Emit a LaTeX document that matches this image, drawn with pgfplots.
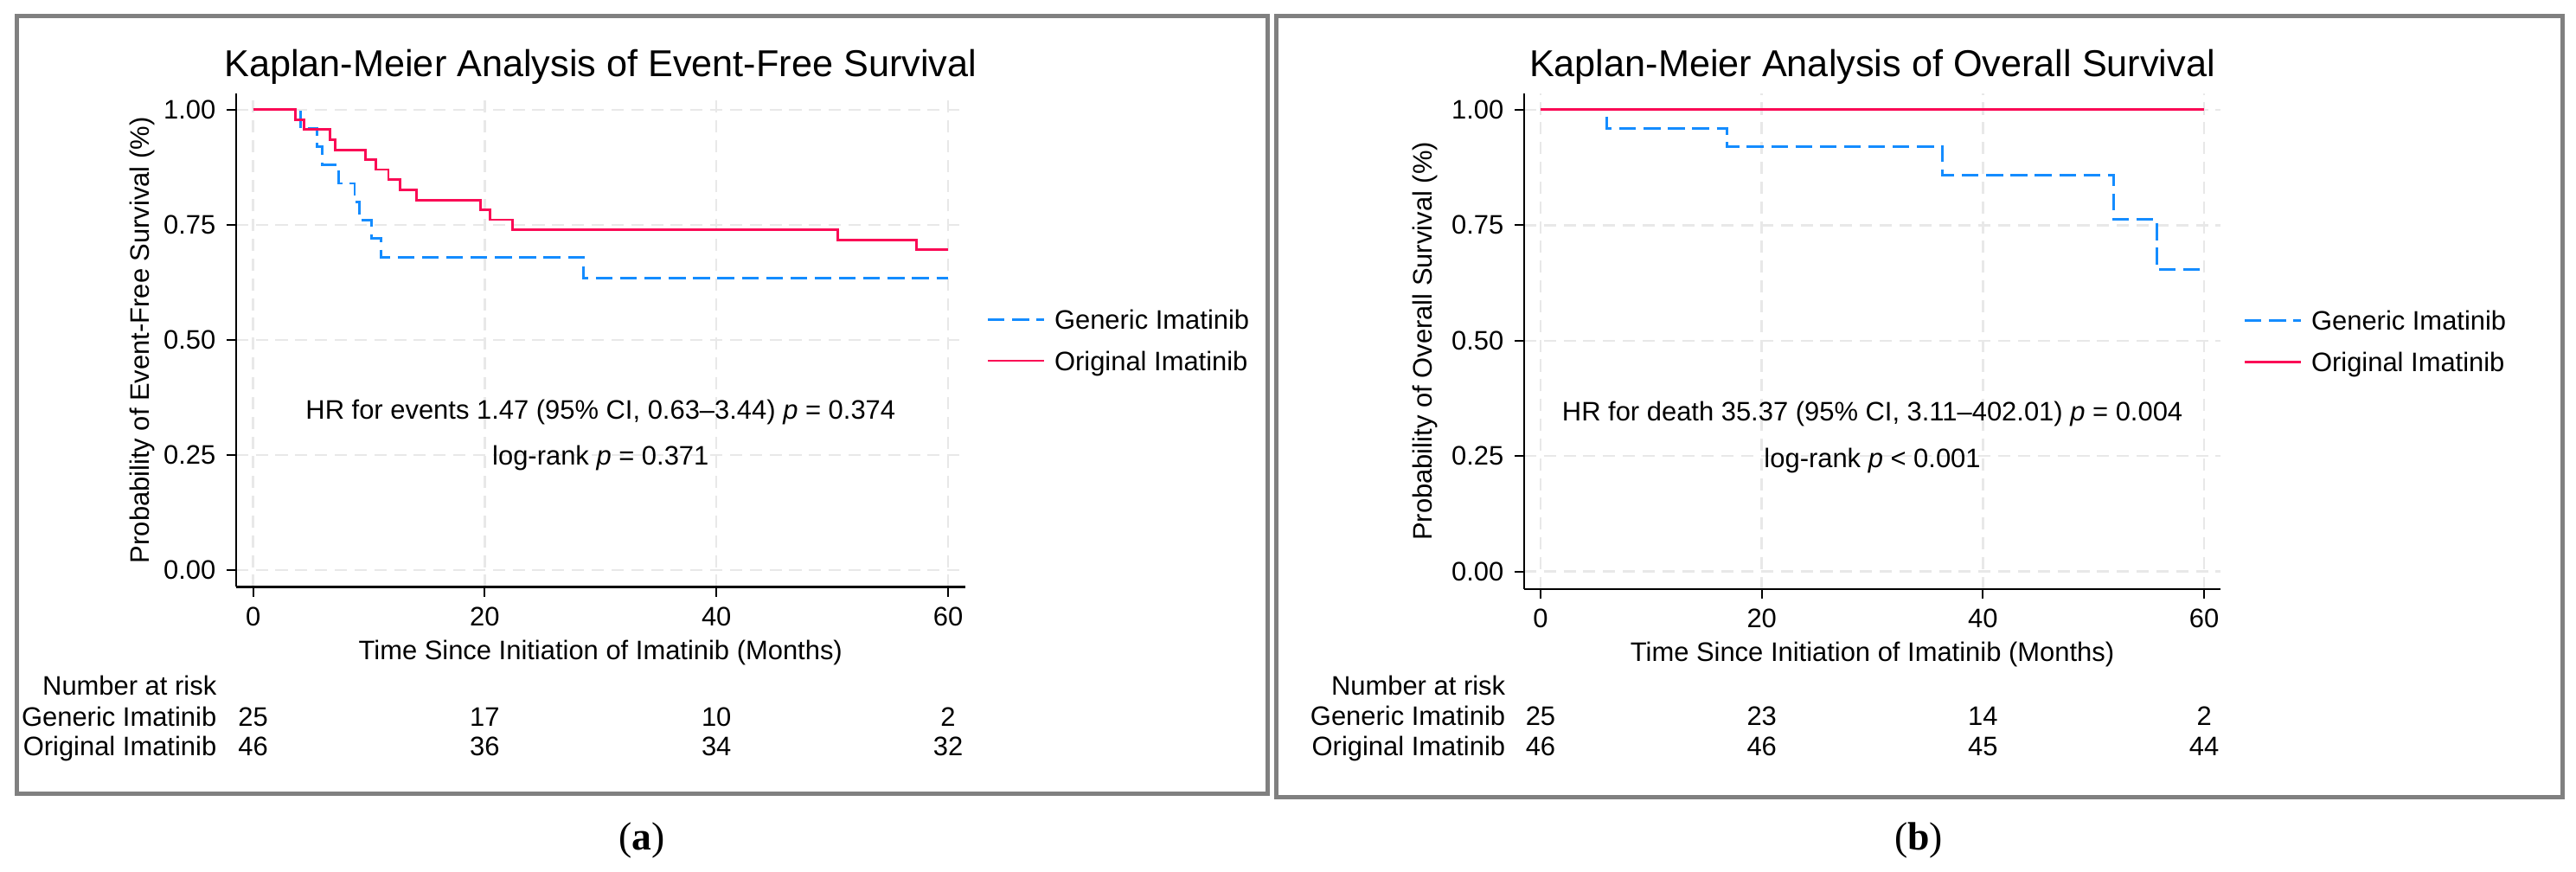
\documentclass[border=0pt]{standalone}
\usepackage{fontspec}
\setmainfont{Liberation Sans}
\newfontfamily\capfont{Liberation Serif}
\usepackage{pgfplots}
\pgfplotsset{compat=1.18}

\definecolor{kmblue}{RGB}{20,140,255}
\definecolor{kmred}{RGB}{250,10,85}
\definecolor{gridgray}{RGB}{232,232,232}
\definecolor{framegray}{RGB}{128,128,128}

\newcommand{\lbl}{\fontsize{8.8}{10.5}\selectfont}

\tikzset{risk/.style={font=\lbl, inner sep=0pt, text height=1.6ex, text depth=0.4ex}}

\pgfplotsset{
  kmaxis/.style={
    scale only axis,
    anchor=south west,
    axis x line=bottom, axis y line=left,
    axis line style={-, black, line width=0.6pt},
    xtick={0,20,40,60}, ytick={0,0.25,0.5,0.75,1},
    tick align=outside, major tick length=0.11cm,
    every tick/.style={black, line width=0.6pt},
    grid=major,
    grid style={gridgray, line width=0.7pt, dash pattern=on 4pt off 2.5pt},
    tick label style={font=\lbl},
    yticklabel style={/pgf/number format/.cd, fixed, fixed zerofill, precision=2, assume math mode=true},
    xticklabel style={/pgf/number format/assume math mode=true},
    label style={font=\lbl},
    every axis title shift=0pt,
    title style={font=\fontsize{12.3}{14}\selectfont, anchor=center},
    clip=false,
    legend cell align=left,
    legend image code/.code={\draw[#1] (0cm,0cm) -- (0.65cm,0cm);},
  },
  generic/.style={kmblue, line width=0.8pt, dash pattern=on 5.5pt off 2.5pt, const plot},
  original/.style={kmred, line width=0.8pt, const plot},
}

\begin{document}
\begin{tikzpicture}
\path[use as bounding box] (0,0) rectangle (29.78,10.07);

% panel frames
\draw[framegray, line width=0.05cm] (0.19,0.90) rectangle (14.65,9.88);
\draw[framegray, line width=0.05cm] (14.75,0.85) rectangle (29.62,9.88);

% (a) event-free survival
\begin{axis}[kmaxis,
  at={(2.728cm,3.285cm)}, width=8.429cm, height=5.705cm,
  xmin=-1.48, xmax=61.47, ymin=-0.0367, ymax=1.0355,
  title={Kaplan-Meier Analysis of Event-Free Survival},
  title style={at={(axis description cs:0.5,1.0535)}},
  xlabel={Time Since Initiation of Imatinib (Months)},
  xlabel style={at={(axis description cs:0.5,-0.134)}, anchor=center},
  ylabel={Probability of Event-Free Survival (\%)},
  ylabel style={at={(axis description cs:-0.128,0.5)}, anchor=center, rotate=0},
  legend style={at={(axis description cs:1.0288,0.5)}, anchor=west, draw=none, fill=none,
    inner sep=0pt, font=\lbl, nodes={inner sep=1.5pt, text height=1.6ex, text depth=0.4ex},
    /tikz/every odd column/.append style={column sep=1.5pt}},
]
\addplot[generic] coordinates {
  (0,1) (4.09,0.96) (5.52,0.92) (5.95,0.88) (7.38,0.84) (8.76,0.80) (9.16,0.76)
  (10.24,0.72) (11.02,0.68) (28.5,0.635) (60,0.635)};
\addplot[original] coordinates {
  (0,1) (3.66,0.978) (4.38,0.957) (6.61,0.935) (7.10,0.913) (9.67,0.891) (10.6,0.870)
  (11.68,0.848) (12.68,0.826) (14.1,0.804) (19.63,0.783) (20.43,0.761) (22.4,0.739)
  (50.5,0.717) (57.3,0.696) (60,0.696)};
\legend{Generic Imatinib, Original Imatinib}

\node[font=\lbl] at (axis cs:30,0.343) {HR for events 1.47 (95\% CI, 0.63–3.44) \textit{p} = 0.374};
\node[font=\lbl] at (axis cs:30,0.244) {log-rank \textit{p} = 0.371};

\node[risk, anchor=east] at (axis cs:-3.11,-0.251) {Number at risk};
\node[risk, anchor=east] at (axis cs:-3.11,-0.318) {Generic Imatinib};
\node[risk, anchor=east] at (axis cs:-3.11,-0.382) {Original Imatinib};
\node[risk] at (axis cs:0,-0.318) {25};
\node[risk] at (axis cs:20,-0.318) {17};
\node[risk] at (axis cs:40,-0.318) {10};
\node[risk] at (axis cs:60,-0.318) {2};
\node[risk] at (axis cs:0,-0.382) {46};
\node[risk] at (axis cs:20,-0.382) {36};
\node[risk] at (axis cs:40,-0.382) {34};
\node[risk] at (axis cs:60,-0.382) {32};
\end{axis}

% (b) overall survival
\begin{axis}[kmaxis,
  at={(17.618cm,3.262cm)}, width=8.054cm, height=5.728cm,
  xmin=-1.50, xmax=61.49, ymin=-0.0377, ymax=1.0354,
  title={Kaplan-Meier Analysis of Overall Survival},
  title style={at={(axis description cs:0.5,1.0533)}},
  xlabel={Time Since Initiation of Imatinib (Months)},
  xlabel style={at={(axis description cs:0.5,-0.132)}, anchor=center},
  ylabel={Probability of Overall Survival (\%)},
  ylabel style={at={(axis description cs:-0.1425,0.5)}, anchor=center, rotate=0},
  legend style={at={(axis description cs:1.032,0.5)}, anchor=west, draw=none, fill=none,
    inner sep=0pt, font=\lbl, nodes={inner sep=1.5pt, text height=1.6ex, text depth=0.4ex},
    /tikz/every odd column/.append style={column sep=1.5pt}},
]
\addplot[generic] coordinates {
  (0,1) (6.0,0.96) (16.86,0.92) (36.36,0.859) (51.8,0.763) (55.7,0.654) (60,0.654)};
\addplot[original] coordinates {(0,1) (60,1)};
\legend{Generic Imatinib, Original Imatinib}

\node[font=\lbl] at (axis cs:30,0.342) {HR for death 35.37 (95\% CI, 3.11–402.01) \textit{p} = 0.004};
\node[font=\lbl] at (axis cs:30,0.241) {log-rank \textit{p} < 0.001};

\node[risk, anchor=east] at (axis cs:-3.14,-0.246) {Number at risk};
\node[risk, anchor=east] at (axis cs:-3.14,-0.313) {Generic Imatinib};
\node[risk, anchor=east] at (axis cs:-3.14,-0.377) {Original Imatinib};
\node[risk] at (axis cs:0,-0.313) {25};
\node[risk] at (axis cs:20,-0.313) {23};
\node[risk] at (axis cs:40,-0.313) {14};
\node[risk] at (axis cs:60,-0.313) {2};
\node[risk] at (axis cs:0,-0.377) {46};
\node[risk] at (axis cs:20,-0.377) {46};
\node[risk] at (axis cs:40,-0.377) {45};
\node[risk] at (axis cs:60,-0.377) {44};
\end{axis}

% panel captions
\node[font=\capfont\fontsize{13}{15}\selectfont] at (7.42,0.35) {(\textbf{a})};
\node[font=\capfont\fontsize{13}{15}\selectfont] at (22.18,0.35) {(\textbf{b})};
\end{tikzpicture}
\end{document}
